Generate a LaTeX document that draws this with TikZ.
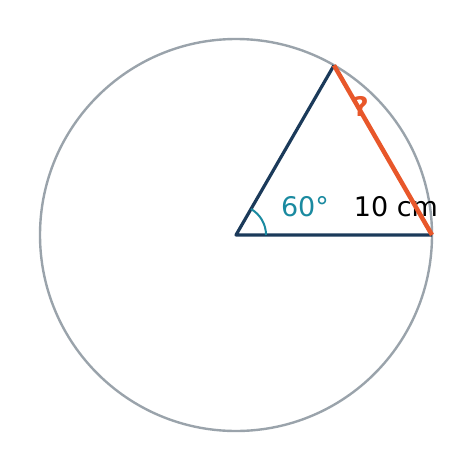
\documentclass[tikz,border=0pt]{standalone}
\usepackage{fontspec}
\setmainfont{DejaVu Sans}
\usetikzlibrary{calc}
\definecolor{cgray}{HTML}{9AA3AB}
\definecolor{cnavy}{HTML}{1B3A5A}
\definecolor{corange}{HTML}{E8572A}
\definecolor{cteal}{HTML}{1A8AA0}
\begin{document}
\begin{tikzpicture}[x=1pt,y=-1pt,
  lbl/.style={font=\fontsize{27}{31}\selectfont, inner sep=0pt}]
\useasboundingbox (0,0) rectangle (471,471);
\coordinate (O) at (236,235);
\coordinate (A) at (432,235);
\coordinate (B) at (334,65.3);
\draw[cgray, line width=2.4pt] (O) circle[radius=196];
\draw[cnavy, line width=3.2pt, line join=round] (A) -- (O) -- (B);
\draw[cteal, line width=2pt] ($(O)+(30,0)$) arc[start angle=0, end angle=-60, radius=30];
\node[lbl, text=cteal] (ang) at (305,207) {60°};
\node[lbl, text=black] (len) at (396,207) {10 cm};
\draw[corange, line width=4.5pt] (B) -- (A);
\node[lbl, text=corange, font=\fontsize{27}{31}\selectfont\bfseries] (q) at (361,106) {?};
\end{tikzpicture}
\end{document}
